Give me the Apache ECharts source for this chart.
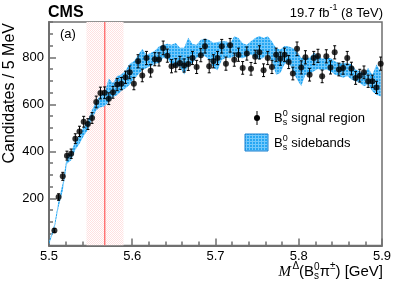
<!DOCTYPE html>
<html><head><meta charset="utf-8">
<script src="https://cdn.jsdelivr.net/npm/echarts@6/dist/echarts.min.js"></script>
<style>html,body{margin:0;padding:0;background:#fff}#c{width:399px;height:286px}</style>
</head><body><div id="c"></div>
<script>
// ---- data ----
const massStart = 5.5065, massStep = 0.005025; // bin centres (GeV)
const signalCounts = [64,206,294,382,390,454,485,526,516,542,
  610,648,649,624,651,684,688,715,736,688,
  783,723,797,743,792,791,840,807,762,766,
  776,765,772,797,759,809,847,762,783,797,
  847,773,851,790,811,755,816,751,802,821,
  745,797,759,811,794,811,780,731,836,757,
  800,726,797,806,719,804,757,821,748,755,
  797,752,712,722,736,698,698,672,773];
const signalErrors = [8,14,17,19,20,21,22,23,23,23,
  25,25,25,25,25,26,26,26,27,26,
  28,27,28,27,28,28,29,28,28,28,
  28,28,28,28,28,28,29,28,28,28,
  29,28,29,28,28,27,28,27,28,28,
  27,28,28,28,28,28,28,27,29,28,
  28,27,28,28,27,28,28,28,27,27,
  28,27,27,27,27,26,26,26,28];
const bandCenter = [10,
  80,178,250,365,380,425,452,485,512,556,
  595,613,620,660,660,680,692,706,728,745,
  768,790,783,790,800,811,825,826,811,811,
  801,784,823,816,825,840,842,832,809,805,
  828,833,828,847,840,828,828,840,840,840,
  840,851,825,783,783,809,814,790,766,738,
  762,762,780,780,769,773,769,755,748,745,
  748,738,723,716,705,720,691,705,686];
const bandHalf = [6,
  10,14,16,18,18,18,20,20,20,20,
  20,25,28,50,30,40,35,38,45,38,
  42,45,28,28,28,35,28,32,42,50,
  40,57,60,40,28,35,38,42,53,60,
  40,35,32,42,42,32,25,28,42,50,
  42,38,42,57,50,39,32,50,60,60,
  36,36,39,30,25,25,28,28,28,32,
  28,32,25,25,28,35,35,64,53];
const signalWindow = [5.545, 5.5895];
const bsMassLine = 5.567;
const xTicks = [5.5, 5.9, 0.1];
const yTicks = [0, 950, 200];

const masses = signalCounts.map((_, i) => massStart + massStep * i);
const bandX = [5.5].concat(masses);

// ---- patterns ----
function gridPattern(size, bg, fg) {
  const c = document.createElement('canvas'); c.width = c.height = size;
  const g = c.getContext('2d'); g.fillStyle = bg; g.fillRect(0, 0, size, size);
  g.fillStyle = fg; g.fillRect(0, 0, size, 1); g.fillRect(0, 0, 1, size);
  return {image: c, repeat: 'repeat'};
}
function checkPattern(bg, fg) {
  const c = document.createElement('canvas'); c.width = c.height = 2;
  const g = c.getContext('2d'); g.fillStyle = bg; g.fillRect(0, 0, 2, 2);
  g.fillStyle = fg; g.fillRect(0, 0, 1, 1); g.fillRect(1, 1, 1, 1);
  return {image: c, repeat: 'repeat'};
}
const bluePat = gridPattern(3, '#27a7f3', '#74c9fb');
const pinkPat = checkPattern('#ffffff', '#ffe0e0');

// ---- rich text helper ----
const SANS = 'Liberation Sans', SERIF = 'Liberation Serif';
const mctx = document.createElement('canvas').getContext('2d');
function fontStr(s) { return (s.italic ? 'italic ' : '') + (s.bold ? 'bold ' : '') + s.size + 'px "' + (s.fam || SANS) + '"'; }
function tw(t, s) { mctx.font = fontStr(s); return mctx.measureText(t).width + (s.gap || 0); }
function textRun(x, y, segs, alignRight) {
  let total = 0;
  segs.forEach(s => {
    if (s.stack) s.w = Math.max(tw(s.stack[0], s), tw(s.stack[1], s));
    else s.w = tw(s.t, s);
    total += s.w;
  });
  let cx = alignRight ? x - total : x;
  const out = [];
  segs.forEach(s => {
    const base = {fill: '#000', fontSize: s.size, fontFamily: s.fam || SANS,
      fontStyle: s.italic ? 'italic' : 'normal', fontWeight: s.bold ? 'bold' : 'normal',
      align: 'left', verticalAlign: 'middle'};
    if (s.stack) {
      out.push({type: 'text', x: cx, y: y - s.size * 0.45, style: Object.assign({text: s.stack[0]}, base)});
      out.push({type: 'text', x: cx, y: y + s.size * 0.45, style: Object.assign({text: s.stack[1]}, base)});
    } else {
      out.push({type: 'text', x: cx, y: y + (s.dy || 0), style: Object.assign({text: s.t}, base)});
    }
    cx += s.w;
  });
  return out;
}

const graphics = [];
graphics.push({type: 'text', x: 48, y: 13, style: {text: 'CMS', fill: '#000', fontSize: 16, fontWeight: 'bold', fontFamily: SANS, align: 'left', verticalAlign: 'middle'}});
graphics.push(...textRun(383, 13, [{t: '19.7 fb', size: 13}, {t: '-1', size: 9, dy: -5}, {t: ' (8 TeV)', size: 13}], true));
graphics.push({type: 'text', x: 60, y: 34, style: {text: '(a)', fill: '#000', fontSize: 13, fontFamily: SANS, align: 'left', verticalAlign: 'middle'}});
graphics.push({type: 'text', x: 10, y: 23, rotation: Math.PI / 2, style: {text: 'Candidates / 5 MeV', fill: '#000', fontSize: 16, fontFamily: SANS, align: 'right', verticalAlign: 'middle'}});
graphics.push(...textRun(383, 272, [{t: 'M', size: 15, fam: SERIF, italic: true, gap: 1.5}, {t: 'Δ', size: 10, dy: -6}, {t: '(B', size: 15}, {stack: ['0', 's'], size: 10}, {t: 'π', size: 15}, {t: '±', size: 10, dy: -6}, {t: ') [GeV]', size: 15}], true));
// legend
graphics.push({type: 'line', shape: {x1: 257, y1: 111, x2: 257, y2: 125}, style: {stroke: '#000', lineWidth: 1}});
graphics.push({type: 'circle', shape: {cx: 257, cy: 118, r: 3}, style: {fill: '#000'}});
graphics.push(...textRun(274, 118, [{t: 'B', size: 13}, {stack: ['0', 's'], size: 9}, {t: ' signal region', size: 13}], false));
graphics.push({type: 'rect', shape: {x: 245, y: 134, width: 23, height: 17}, style: {fill: bluePat, stroke: '#1a80d0', lineWidth: 1}});
graphics.push(...textRun(274, 143, [{t: 'B', size: 13}, {stack: ['0', 's'], size: 9}, {t: ' sidebands', size: 13}], false));

const AX = '#6f6f6f';
const option = {
  animation: false,
  backgroundColor: '#fff',
  grid: {left: 49, right: 17, top: 22, bottom: 40.5, show: true, borderColor: AX, borderWidth: 1.5, backgroundColor: 'transparent'},
  xAxis: {type: 'value', min: xTicks[0], max: xTicks[1], interval: xTicks[2],
    axisLine: {lineStyle: {color: AX, width: 2}},
    axisTick: {inside: true, length: 7, lineStyle: {color: AX, width: 1.5}},
    minorTick: {show: true, splitNumber: 5, length: 4, lineStyle: {color: AX, width: 1.5}},
    splitLine: {show: false}, minorSplitLine: {show: false},
    axisLabel: {color: '#000', fontSize: 13, fontFamily: SANS, margin: 4, formatter: v => v.toFixed(1)}},
  yAxis: [
    {type: 'value', min: yTicks[0], max: yTicks[1], interval: yTicks[2], position: 'left', offset: 0,
      axisLine: {show: true, lineStyle: {color: AX, width: 2}},
      axisTick: {show: true, inside: true, length: 7, lineStyle: {color: AX, width: 1.5}},
      splitLine: {show: false},
      axisLabel: {color: '#000', fontSize: 13, fontFamily: SANS, margin: 5, showMinLabel: false, showMaxLabel: false}},
    {type: 'value', min: yTicks[0], max: yTicks[1], interval: 50, position: 'left', offset: 0,
      axisLine: {show: false}, axisTick: {show: true, inside: true, length: 4, lineStyle: {color: AX, width: 1.5}},
      splitLine: {show: false}, axisLabel: {show: false}}
  ],
  graphic: graphics,
  series: [
    {type: 'custom', z: 1, clip: true, data: [[signalWindow[0], 0]],
      renderItem: (p, api) => {
        const a = api.coord([signalWindow[0], yTicks[1]]), b = api.coord([signalWindow[1], yTicks[0]]);
        return {type: 'rect', shape: {x: a[0], y: a[1], width: b[0] - a[0], height: b[1] - a[1]}, style: {fill: pinkPat}};
      }},
    {type: 'custom', z: 2, clip: true, data: [[bsMassLine, 0]],
      renderItem: (p, api) => {
        const a = api.coord([bsMassLine, yTicks[1]]), b = api.coord([bsMassLine, yTicks[0]]);
        return {type: 'line', shape: {x1: a[0], y1: a[1], x2: b[0], y2: b[1]}, style: {stroke: '#ff5a5a', lineWidth: 1.2}};
      }},
    {type: 'custom', z: 3, clip: true, data: [[5.5, 0]],
      renderItem: (p, api) => {
        const up = [], lo = [];
        for (let i = 0; i < bandX.length; i++) {
          up.push(api.coord([bandX[i], bandCenter[i] + bandHalf[i]]));
          lo.push(api.coord([bandX[i], Math.max(0, bandCenter[i] - bandHalf[i])]));
        }
        return {type: 'polygon', shape: {points: up.concat(lo.reverse())}, style: {fill: bluePat}};
      }},
    {type: 'custom', z: 4, clip: true,
      data: masses.map((m, i) => [m, signalCounts[i], signalErrors[i]]),
      renderItem: (p, api) => {
        const x = api.value(0), y = api.value(1), e = api.value(2);
        const t = api.coord([x, y + e]), b = api.coord([x, y - e]);
        return {type: 'group', children: [
          {type: 'line', shape: {x1: t[0], y1: t[1], x2: b[0], y2: b[1]}, style: {stroke: '#000', lineWidth: 1}},
          {type: 'line', shape: {x1: t[0] - 1.5, y1: t[1], x2: t[0] + 1.5, y2: t[1]}, style: {stroke: '#000', lineWidth: 1}},
          {type: 'line', shape: {x1: b[0] - 1.5, y1: b[1], x2: b[0] + 1.5, y2: b[1]}, style: {stroke: '#000', lineWidth: 1}}
        ]};
      }},
    {type: 'scatter', z: 5, symbol: 'circle', symbolSize: 6, itemStyle: {color: '#000'},
      data: masses.map((m, i) => [m, signalCounts[i]])}
  ]
};
const chart = echarts.init(document.getElementById('c'), null, {renderer: 'canvas', width: 399, height: 286});
chart.setOption(option);
</script></body></html>
